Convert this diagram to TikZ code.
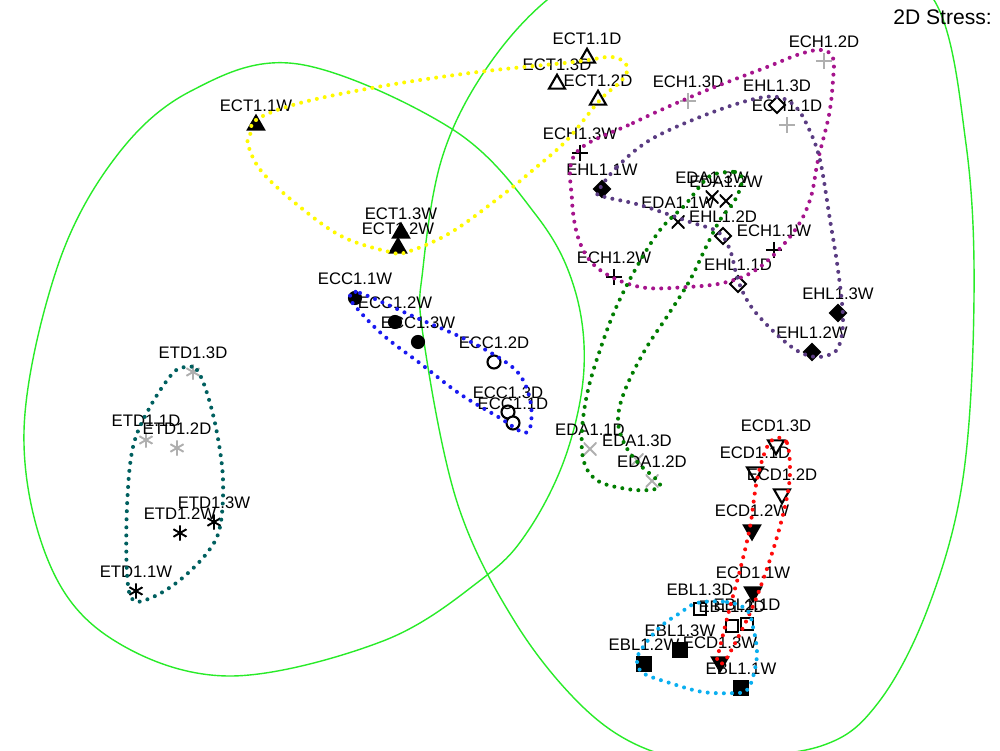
\documentclass[tikz,border=0pt]{standalone}
\usepackage{fontspec}
\setmainfont{Liberation Sans}
\usepackage{tikz}
\usetikzlibrary{shapes.geometric, positioning, calc}
\definecolor{ringgreen}{RGB}{40, 235, 40}
\definecolor{markgray}{RGB}{175, 175, 175}
\definecolor{ectcol}{RGB}{255, 250, 0}
\definecolor{echcol}{RGB}{165, 20, 140}
\definecolor{ehlcol}{RGB}{90, 60, 130}
\definecolor{edacol}{RGB}{0, 125, 0}
\definecolor{ecccol}{RGB}{25, 25, 240}
\definecolor{etdcol}{RGB}{0, 95, 95}
\definecolor{ecdcol}{RGB}{255, 10, 10}
\definecolor{eblcol}{RGB}{10, 175, 240}

\begin{document}
\begin{tikzpicture}[
    x=0.2mm, y=-0.2mm,
    lbl/.style={font=\fontsize{9.5}{11}\selectfont, inner sep=0pt, yshift=3.8mm},
    smp/.style={label={[lbl]center:#1}},
    mk/.style={inner sep=0pt, outer sep=0pt},
    tri/.style={mk, regular polygon, regular polygon sides=3, minimum size=3.7mm, draw=black, line width=1.2pt, fill=white},
    trif/.style={tri, fill=black},
    tdn/.style={tri, shape border rotate=180},
    tdnf/.style={tdn, fill=black},
    dia/.style={mk, regular polygon, regular polygon sides=4, shape border rotate=45, minimum size=3.2mm, draw=black, line width=1.1pt, fill=white},
    diaf/.style={dia, fill=black},
    cir/.style={mk, circle, minimum size=2.6mm, draw=black, line width=1.2pt, fill=white},
    cirf/.style={cir, fill=black, minimum size=2.4mm},
    sqr/.style={mk, rectangle, minimum size=2.4mm, draw=black, line width=1.1pt, fill=white},
    sqrf/.style={sqr, fill=black, minimum size=2.7mm},
    plusmk/.style={mk, rectangle, minimum size=3.3mm, path picture={
        \draw[#1, line width=1.1pt] (path picture bounding box.north) -- (path picture bounding box.south)
            (path picture bounding box.west) -- (path picture bounding box.east);}},
    xmk/.style={mk, rectangle, minimum size=2.6mm, path picture={
        \draw[#1, line width=1.1pt] (path picture bounding box.north west) -- (path picture bounding box.south east)
            (path picture bounding box.north east) -- (path picture bounding box.south west);}},
    astmk/.style={mk, circle, minimum size=3.1mm, path picture={
        \draw[#1, line width=1.1pt]
            ([shift={(90:1.55mm)}]path picture bounding box.center) -- ([shift={(270:1.55mm)}]path picture bounding box.center)
            ([shift={(30:1.55mm)}]path picture bounding box.center) -- ([shift={(210:1.55mm)}]path picture bounding box.center)
            ([shift={(150:1.55mm)}]path picture bounding box.center) -- ([shift={(330:1.55mm)}]path picture bounding box.center);}},
    ring/.style={draw=ringgreen, line width=0.8pt},
    hull/.style={line width=2.3pt, dash pattern=on 0pt off 4.6pt, line cap=round}
]
    \useasboundingbox (0,0) rectangle (1000,750);
    \clip (0,0) rectangle (1000,750);

    % Cluster rings
    \draw[ring] plot[smooth cycle, tension=0.6] coordinates {(298,64) (452,129) (536,215) (574,287) (584,368) (566,455) (528,531) (482,579) (383,641) (230,676) (115,641) (50,565) (24,431) (57,268) (115,158) (191,91)};
    \draw[ring] plot[smooth cycle, tension=0.6] coordinates {(547,0) (630,-50) (740,-70) (850,-45) (934,0) (966,144) (974,297) (963,478) (928,608) (878,703) (821,746) (715,758) (649,750) (584,708) (515,622) (457,502) (423,335) (423,268) (442,158) (484,72)};

    % Samples
    \node[tri, smp=ECT1.1D] (ect11d) at (587,58) {};
    \node[tri, smp=ECT1.3D] (ect13d) at (557,84) {};
    \node[tri, smp=ECT1.2D] (ect12d) at (598,100) {};
    \node[trif, smp=ECT1.1W] (ect11w) at (256,125) {};
    \node[trif, smp=ECT1.3W] (ect13w) at (401,233) {};
    \node[trif, smp=ECT1.2W] (ect12w) at (398,248) {};

    \node[plusmk=markgray, smp=ECH1.2D] (ech12d) at (824,61) {};
    \node[plusmk=markgray, smp=ECH1.3D] (ech13d) at (688,101) {};
    \node[plusmk=markgray, smp=ECH1.1D] (ech11d) at (787,125) {};
    \node[plusmk=black, smp=ECH1.3W] (ech13w) at (580,153) {};
    \node[plusmk=black, smp=ECH1.2W] (ech12w) at (614,277) {};
    \node[plusmk=black, smp=ECH1.1W] (ech11w) at (774,250) {};

    \node[dia, smp=EHL1.3D] (ehl13d) at (777,105) {};
    \node[dia, smp=EHL1.2D] (ehl12d) at (723,236) {};
    \node[dia, smp=EHL1.1D] (ehl11d) at (738,284) {};
    \node[diaf, smp=EHL1.1W] (ehl11w) at (602,189) {};
    \node[diaf, smp=EHL1.3W] (ehl13w) at (838,313) {};
    \node[diaf, smp=EHL1.2W] (ehl12w) at (812,352) {};

    \node[xmk=black, smp=EDA1.3W] (eda13w) at (712,197) {};
    \node[xmk=black, smp=EDA1.2W] (eda12w) at (726,201) {};
    \node[xmk=black, smp=EDA1.1W] (eda11w) at (678,222) {};
    \node[xmk=markgray, smp=EDA1.1D] (eda11d) at (590,449) {};
    \node[xmk=markgray, smp=EDA1.3D] (eda13d) at (637,460) {};
    \node[xmk=markgray, smp=EDA1.2D] (eda12d) at (652,481) {};

    \node[cirf, smp=ECC1.1W] (ecc11w) at (355,298) {};
    \node[cirf, smp=ECC1.3W] (ecc13w) at (418,342) {};
    \node[cirf, smp=ECC1.2W] (ecc12w) at (395,322) {};
    \node[cir, smp=ECC1.2D] (ecc12d) at (494,362) {};
    \node[cir, smp=ECC1.3D] (ecc13d) at (508,412) {};
    \node[cir, smp=ECC1.1D] (ecc11d) at (513,423) {};

    \node[astmk=markgray, smp=ETD1.3D] (etd13d) at (193,372) {};
    \node[astmk=markgray, smp=ETD1.1D] (etd11d) at (146,440) {};
    \node[astmk=markgray, smp=ETD1.2D] (etd12d) at (177,448) {};
    \node[astmk=black, smp=ETD1.3W] (etd13w) at (214,522) {};
    \node[astmk=black, smp=ETD1.2W] (etd12w) at (180,533) {};
    \node[astmk=black, smp=ETD1.1W] (etd11w) at (136,591) {};

    \node[tdn, smp=ECD1.3D] (ecd13d) at (776,445) {};
    \node[tdn, smp=ECD1.1D] (ecd11d) at (755,472) {};
    \node[tdn, smp=ECD1.2D] (ecd12d) at (782,494) {};
    \node[tdnf, smp=ECD1.2W] (ecd12w) at (752,530) {};
    \node[tdnf, smp=ECD1.1W] (ecd11w) at (753,592) {};
    \node[tdnf, smp=ECD1.3W] (ecd13w) at (720,662) {};

    \node[sqr, smp=EBL1.3D] (ebl13d) at (700,609) {};
    \node[sqr, smp=EBL1.2D] (ebl12d) at (732,626) {};
    \node[sqr, smp=EBL1.1D] (ebl11d) at (747,624) {};
    \node[sqrf, smp=EBL1.3W] (ebl13w) at (680,650) {};
    \node[sqrf, smp=EBL1.2W] (ebl12w) at (644,664) {};
    \node[sqrf, smp=EBL1.1W] (ebl11w) at (741,688) {};

    % Group hulls
    \draw[hull, ectcol] plot[smooth cycle, tension=0.6] coordinates {(250,137) (256,120) (300,103) (383,86) (478,72) (574,62) (612,57) (627,66) (622,80) (600,100) (567,140) (533,170) (500,197) (450,233) (407,252) (390,252) (343,237) (300,207) (262,172) (248,145)};
    \draw[hull, echcol] plot[smooth cycle, tension=0.6] coordinates {(576,153) (633,123) (700,93) (767,67) (800,54) (822,50) (833,58) (833,80) (829,115) (818,160) (810,200) (793,233) (760,267) (727,282) (687,287) (640,287) (600,270) (580,243) (572,200)};
    \draw[hull, ehlcol] plot[smooth cycle, tension=0.6] coordinates {(598,192) (617,167) (650,140) (700,117) (750,100) (777,97) (795,106) (808,127) (820,160) (830,220) (838,270) (843,320) (838,348) (825,356) (810,356) (793,348) (770,328) (750,305) (738,280) (730,250) (718,232) (690,222) (640,205) (605,197)};
    \draw[hull, edacol] plot[smooth cycle, tension=0.6] coordinates {(712,175) (735,172) (742,180) (735,200) (720,220) (706,247) (690,280) (668,315) (645,350) (625,390) (618,420) (625,445) (640,465) (655,478) (660,486) (650,490) (627,489) (598,481) (584,462) (582,430) (588,390) (600,350) (615,310) (635,270) (660,230) (685,205) (700,186)};
    \draw[hull, ecccol] plot[smooth cycle, tension=0.6] coordinates {(350,296) (360,293) (417,318) (467,340) (507,363) (523,380) (531,405) (530,428) (522,432) (500,418) (460,394) (421,364) (383,335) (355,306)};
    \draw[hull, etdcol] plot[smooth cycle, tension=0.6] coordinates {(187,367) (197,370) (207,393) (217,433) (223,480) (220,527) (207,553) (180,580) (153,597) (133,600) (127,573) (127,507) (133,447) (150,407) (173,373)};
    \draw[hull, ecdcol] plot[smooth cycle, tension=0.6] coordinates {(777,438) (787,443) (790,470) (787,497) (777,537) (763,580) (750,613) (733,647) (723,663) (717,660) (720,647) (730,607) (740,570) (750,527) (757,480) (767,447)};
    \draw[hull, eblcol] plot[smooth cycle, tension=0.6] coordinates {(697,603) (727,602) (747,610) (753,627) (757,653) (753,677) (747,690) (737,693) (703,692) (670,683) (643,673) (637,660) (643,647) (660,627) (680,613)};

    % Stress note
    \node[anchor=west, inner sep=0pt, font=\fontsize{12}{14}\selectfont] (stress) at (893,17) {2D Stress:};
\end{tikzpicture}
\end{document}
